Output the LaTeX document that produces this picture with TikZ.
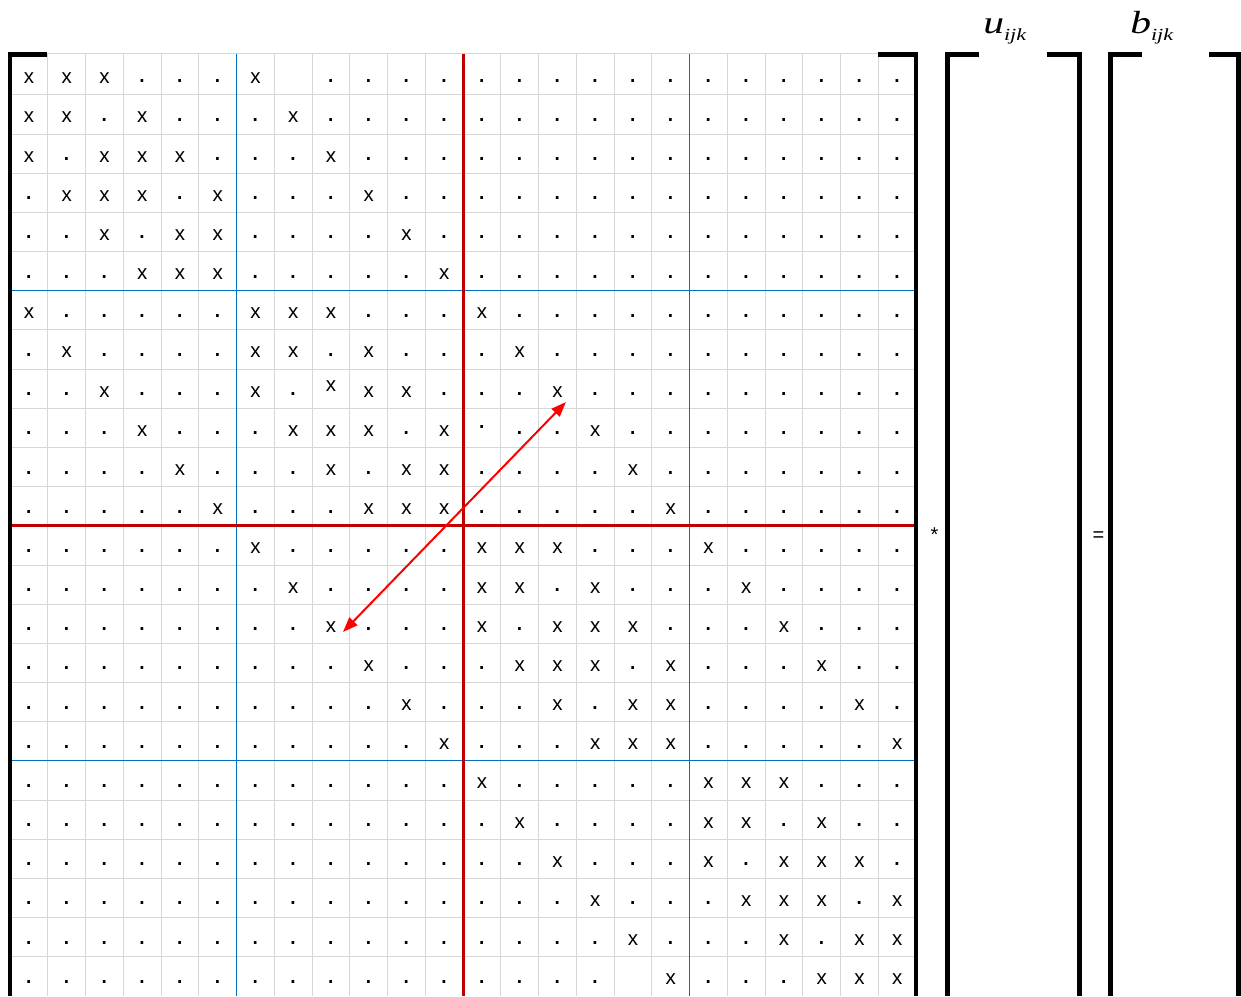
\documentclass[tikz,border=0pt]{standalone}
\usepackage{fontspec}
\setmainfont{Liberation Sans}
\newfontfamily\lbserif{Liberation Serif}
\usetikzlibrary{arrows.meta}
\definecolor{gridgray}{RGB}{214,214,214}
\definecolor{blockblue}{RGB}{0,112,192}
\definecolor{blockred}{RGB}{192,0,0}
\definecolor{arrowred}{RGB}{255,0,0}
\begin{document}
\begin{tikzpicture}[x=1pt,y=-1pt,
  cellx/.style={anchor=base,inner sep=0pt,font=\fontsize{20.5}{20.5}\selectfont},
  celldot/.style={anchor=base,inner sep=0pt,font=\fontsize{28}{28}\selectfont},
  gridline/.style={draw=gridgray,line width=1pt},
  bluerule/.style={draw=blockblue,line width=1pt},
  redrule/.style={draw=blockred,line width=3pt},
  bracket/.style={draw=black,line width=4.5pt},
  opsign/.style={anchor=base,inner sep=0pt,font=\fontsize{20}{20}\selectfont},
  vlabel/.style={anchor=base west,inner sep=0pt,xscale=1.3,font=\lbserif\itshape\fontsize{32}{32}\selectfont},
  swaparrow/.style={draw=arrowred,line width=2pt,{Triangle[length=15pt,width=11pt]}-{Triangle[length=15pt,width=11pt]}}]
\useasboundingbox (0,0) rectangle (1241,996);
% light grid
\foreach \c in {1,...,23}
  \draw[gridline] ({10+37.75*\c},53.5) -- ({10+37.75*\c},996);
\draw[gridline] (10,53.5) -- (916,53.5);
\foreach \k in {1,...,23}
  \draw[gridline] (10,{55.8+39.17*\k}) -- (916,{55.8+39.17*\k});
% block rules
\foreach \c in {6,18}
  \draw[bluerule] ({10+37.75*\c},53.5) -- ({10+37.75*\c},996);
\foreach \k in {6,18}
  \draw[bluerule] (10,{55.8+39.17*\k}) -- (916,{55.8+39.17*\k});
\draw[redrule] ({10+37.75*12},53.5) -- ({10+37.75*12},996);
\draw[redrule] (10,{55.8+39.17*12}) -- (916,{55.8+39.17*12});
% entries: 0 dot, 1 x, 2 empty, 3 raised x, 4 raised dot
\foreach \row [count=\r] in {
 {1,1,1,0,0,0,1,2,0,0,0,0,0,0,0,0,0,0,0,0,0,0,0,0},
 {1,1,0,1,0,0,0,1,0,0,0,0,0,0,0,0,0,0,0,0,0,0,0,0},
 {1,0,1,1,1,0,0,0,1,0,0,0,0,0,0,0,0,0,0,0,0,0,0,0},
 {0,1,1,1,0,1,0,0,0,1,0,0,0,0,0,0,0,0,0,0,0,0,0,0},
 {0,0,1,0,1,1,0,0,0,0,1,0,0,0,0,0,0,0,0,0,0,0,0,0},
 {0,0,0,1,1,1,0,0,0,0,0,1,0,0,0,0,0,0,0,0,0,0,0,0},
 {1,0,0,0,0,0,1,1,1,0,0,0,1,0,0,0,0,0,0,0,0,0,0,0},
 {0,1,0,0,0,0,1,1,0,1,0,0,0,1,0,0,0,0,0,0,0,0,0,0},
 {0,0,1,0,0,0,1,0,3,1,1,0,0,0,1,0,0,0,0,0,0,0,0,0},
 {0,0,0,1,0,0,0,1,1,1,0,1,4,0,0,1,0,0,0,0,0,0,0,0},
 {0,0,0,0,1,0,0,0,1,0,1,1,0,0,0,0,1,0,0,0,0,0,0,0},
 {0,0,0,0,0,1,0,0,0,1,1,1,0,0,0,0,0,1,0,0,0,0,0,0},
 {0,0,0,0,0,0,1,0,0,0,0,0,1,1,1,0,0,0,1,0,0,0,0,0},
 {0,0,0,0,0,0,0,1,0,0,0,0,1,1,0,1,0,0,0,1,0,0,0,0},
 {0,0,0,0,0,0,0,0,1,0,0,0,1,0,1,1,1,0,0,0,1,0,0,0},
 {0,0,0,0,0,0,0,0,0,1,0,0,0,1,1,1,0,1,0,0,0,1,0,0},
 {0,0,0,0,0,0,0,0,0,0,1,0,0,0,1,0,1,1,0,0,0,0,1,0},
 {0,0,0,0,0,0,0,0,0,0,0,1,0,0,0,1,1,1,0,0,0,0,0,1},
 {0,0,0,0,0,0,0,0,0,0,0,0,1,0,0,0,0,0,1,1,1,0,0,0},
 {0,0,0,0,0,0,0,0,0,0,0,0,0,1,0,0,0,0,1,1,0,1,0,0},
 {0,0,0,0,0,0,0,0,0,0,0,0,0,0,1,0,0,0,1,0,1,1,1,0},
 {0,0,0,0,0,0,0,0,0,0,0,0,0,0,0,1,0,0,0,1,1,1,0,1},
 {0,0,0,0,0,0,0,0,0,0,0,0,0,0,0,0,1,0,0,0,1,0,1,1},
 {0,0,0,0,0,0,0,0,0,0,0,0,0,0,0,0,2,1,0,0,0,1,1,1}}
{
  \foreach \s [count=\c] in \row {
    \pgfmathsetmacro\cx{10+37.75*(\c-0.5)}
    \pgfmathsetmacro\ty{55.8+39.17*(\r-1)}
    \ifcase\s\relax
      \node[celldot] (m-\r-\c) at (\cx,\ty+26.5) {.};
    \or
      \node[cellx] (m-\r-\c) at (\cx,\ty+28) {x};
    \or
      \coordinate (m-\r-\c) at (\cx,\ty+20);
    \or
      \node[cellx] (m-\r-\c) at (\cx,\ty+22) {x};
    \or
      \node[celldot] (m-\r-\c) at (\cx,\ty+20) {.};
    \fi
  }
}
% swap arrow
\coordinate (arrA) at (566,402);
\coordinate (arrB) at (343,632);
\draw[swaparrow] (arrB) -- (arrA);
% brackets
\draw[bracket] (47,54.5) -| (10,996);
\draw[bracket] (878,54.5) -| (916,996);
\draw[bracket] (979,54.5) -| (947.5,996);
\draw[bracket] (1047,54.5) -| (1079.5,996);
\draw[bracket] (1142,54.5) -| (1110.5,996);
\draw[bracket] (1209,54.5) -| (1238.5,996);
% operators and labels
\node[opsign] (star) at (934.5,541.5) {*};
\node[opsign] (eq) at (1098.5,541.5) {=};
\node[vlabel] (ulab) at (983,33) {u\raisebox{-7pt}{\fontsize{17}{17}\selectfont ijk}};
\node[vlabel] (blab) at (1130,33) {b\raisebox{-7pt}{\fontsize{17}{17}\selectfont ijk}};
\end{tikzpicture}
\end{document}
